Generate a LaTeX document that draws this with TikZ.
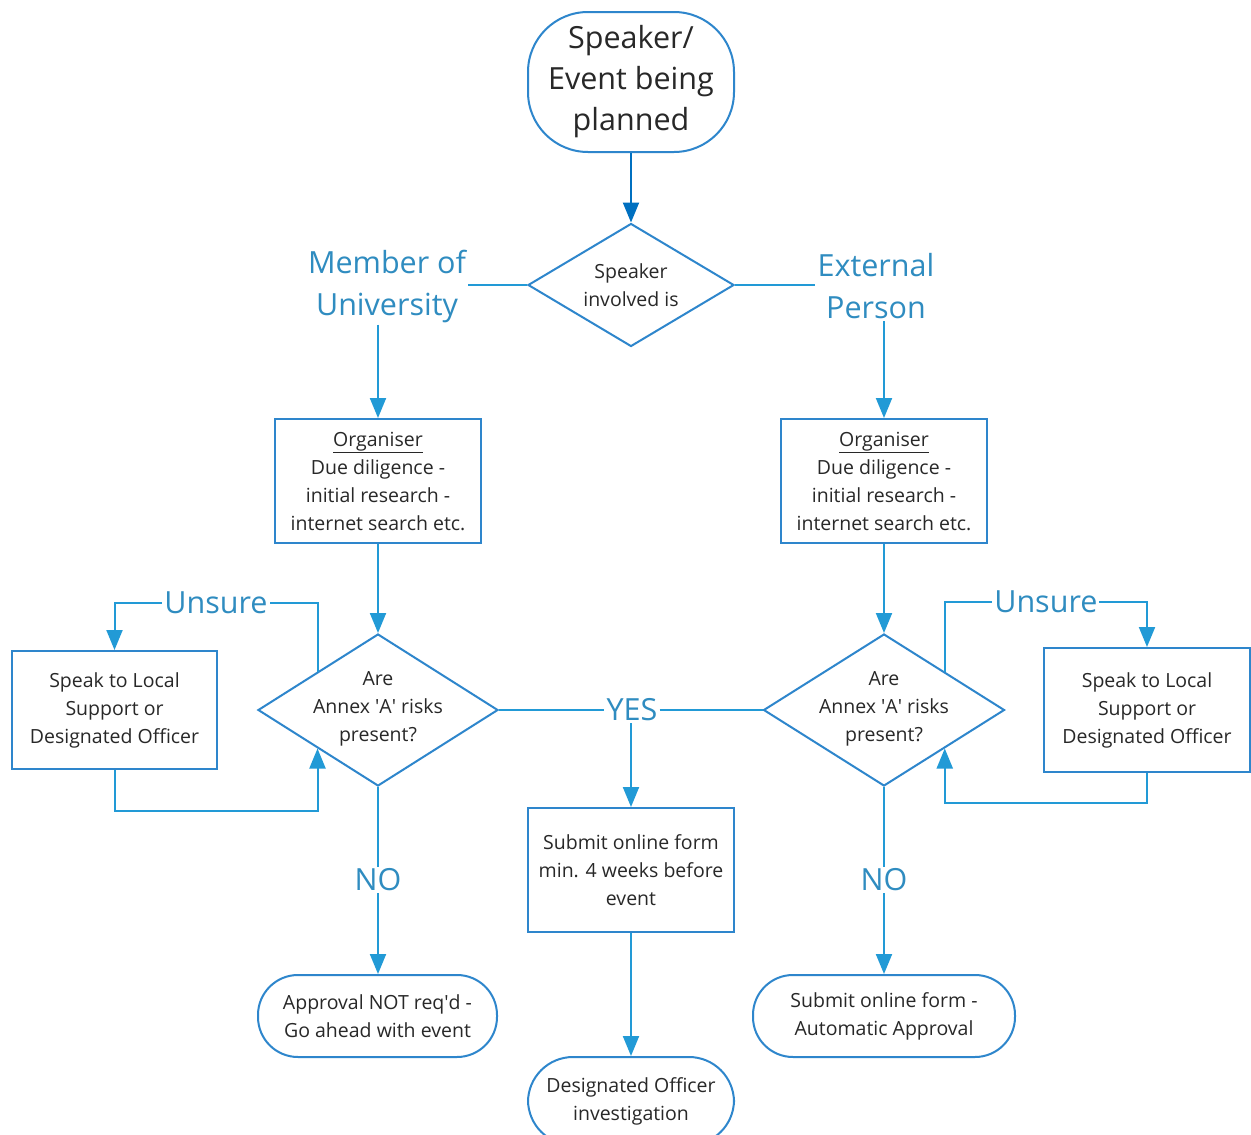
\documentclass[tikz,border=0pt]{standalone}
\usepackage{fontspec}
\setmainfont{Open Sans}
\usetikzlibrary{shapes.geometric,arrows.meta}
\definecolor{shapec}{RGB}{46,134,204}
\definecolor{connc}{RGB}{34,154,214}
\definecolor{topc}{RGB}{0,112,192}
\definecolor{lblc}{RGB}{47,140,192}
\definecolor{txtc}{RGB}{40,40,40}
\newcommand\fsz[2]{\fontsize{#1}{#2}\selectfont}
\newcommand\q{\textquotesingle}
\begin{document}
\begin{tikzpicture}[x=1pt,y=-1pt,
  box/.style={draw=shapec, line width=2pt, fill=white, inner sep=0pt, align=center, text=txtc, font=\fsz{19.5}{28}},
  term/.style={box, rounded corners=40pt},
  diam/.style={draw=shapec, line width=2pt, diamond, inner sep=0pt, fill=white},
  dtext/.style={align=center, text=txtc, font=\fsz{19.5}{28}, inner sep=0pt},
  lbl/.style={text=lblc, font=\fsz{30.5}{42}, inner sep=2pt, align=center, fill=white},
  conn/.style={draw=connc, line width=2pt},
  arr/.style={conn, -{Triangle[width=16pt,length=20pt]}},
]
\useasboundingbox[fill=white] (0,0) rectangle (1251,1135);

% top
\node[box, rounded corners=60pt, minimum width=206pt, minimum height=140pt, font=\fsz{30.5}{41}] (top) at (631,82) {Speaker/\\Event being\\planned};
\node[diam, minimum width=206pt, minimum height=123pt] (d0) at (631,285) {};
\node[dtext] (d0t) at (631,285) {Speaker\\involved is};

% labels top
\node[lbl] (mem) at (387,286) {Member of\\University};
\node[lbl] (ext) at (876,286) {External\\Person};

% organiser boxes
\node[box, minimum width=206pt, minimum height=124pt] (orgL) at (378,481) {\underline{Organiser}\\Due diligence -\\initial research -\\internet search etc.};
\node[box, minimum width=206pt, minimum height=124pt] (orgR) at (884,481) {\underline{Organiser}\\Due diligence -\\initial research -\\internet search etc.};

% decision diamonds
\node[diam, minimum width=240pt, minimum height=152pt] (dL) at (378,710) {};
\node[dtext] (dLt) at (378,709) {Are\\Annex \q A\q{} risks\\present?};
\node[diam, minimum width=241pt, minimum height=152pt] (dR) at (884,710) {};
\node[dtext] (dRt) at (884,709) {Are\\Annex \q A\q{} risks\\present?};

% speak boxes
\node[box, minimum width=205pt, minimum height=118pt] (spL) at (114.5,710) {Speak to Local\\Support or\\Designated Officer};
\node[box, minimum width=206pt, minimum height=124pt] (spR) at (1147,710) {Speak to Local\\Support or\\Designated Officer};

% YES
\node[lbl] (yes) at (632,710) {YES};
\node[box, minimum width=206pt, minimum height=124pt] (sub) at (631,870) {Submit online form\\min. 4 weeks before\\event};
\node[term, rounded corners=45pt, minimum width=206pt, minimum height=88pt] (des) at (631,1101) {Designated Officer\\investigation};

% NO
\node[lbl] (noL) at (378,880) {NO};
\node[lbl] (noR) at (884,880) {NO};
\node[term, minimum width=239pt, minimum height=82pt] (apL) at (377.5,1016) {Approval NOT req\q d -\\Go ahead with event};
\node[term, minimum width=262pt, minimum height=82pt] (apR) at (884,1016) {Submit online form -\\Automatic Approval};

% connectors
\draw[conn, draw=topc, -{Triangle[width=16pt,length=20pt]}] (top.south) -- (d0.north);
\draw[conn] (d0.west) -- (mem.east |- d0.west);
\draw[conn] (d0.east) -- (ext.west |- d0.east);
\draw[arr] (mem.south -| orgL.north) -- (orgL.north);
\draw[arr] (ext.south -| orgR.north) -- (orgR.north);
\draw[arr] (orgL.south) -- (dL.north);
\draw[arr] (orgR.south) -- (dR.north);

\draw[arr] (dL.north west) -- ++(0,-69) -| node[lbl, pos=0.25] (uL) {Unsure} (spL.north);
\draw[arr] (spL.south) -- ++(0,41) -| (dL.south west);
\draw[arr] (dR.north east) -- ++(0,-70) -| node[lbl, pos=0.25] (uR) {Unsure} (spR.north);
\draw[arr] (spR.south) -- ++(0,30) -| (dR.south east);

\draw[conn] (dL.east) -- (yes.west);
\draw[conn] (yes.east) -- (dR.west);
\draw[arr] (yes.south -| sub.north) -- (sub.north);
\draw[arr] (sub.south) -- (des.north);

\draw[conn] (dL.south) -- (noL.north);
\draw[arr] (noL.south) -- (apL.north -| noL.south);
\draw[conn] (dR.south) -- (noR.north);
\draw[arr] (noR.south) -- (apR.north);

% redraw label nodes on top
\node[lbl] at (mem) {Member of\\University};
\node[lbl] at (ext) {External\\Person};
\end{tikzpicture}
\end{document}
